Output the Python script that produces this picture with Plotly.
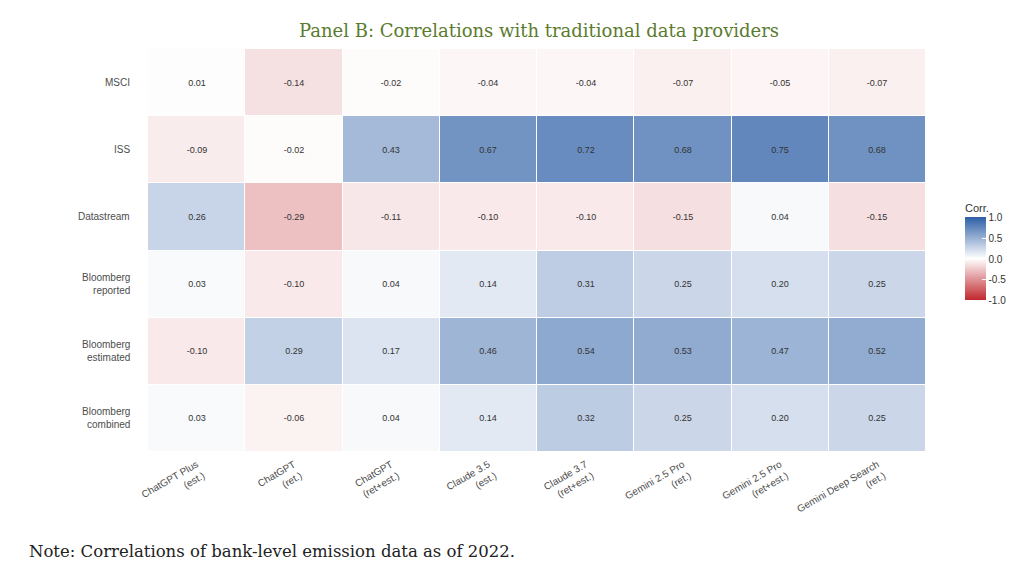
import plotly.graph_objects as go

models = ["ChatGPT Plus<br>(est.)", "ChatGPT<br>(ret.)", "ChatGPT<br>(ret+est.)",
          "Claude 3.5<br>(est.)", "Claude 3.7<br>(ret+est.)", "Gemini 2.5 Pro<br>(ret.)",
          "Gemini 2.5 Pro<br>(ret+est.)", "Gemini Deep Search<br>(ret.)"]
providers = ["MSCI", "ISS", "Datastream", "Bloomberg<br>reported",
             "Bloomberg<br>estimated", "Bloomberg<br>combined"]

msci = [0.01, -0.14, -0.02, -0.04, -0.04, -0.07, -0.05, -0.07]
iss = [-0.09, -0.02, 0.43, 0.67, 0.72, 0.68, 0.75, 0.68]
datastream = [0.26, -0.29, -0.11, -0.10, -0.10, -0.15, 0.04, -0.15]
bbg_reported = [0.03, -0.10, 0.04, 0.14, 0.31, 0.25, 0.20, 0.25]
bbg_estimated = [-0.10, 0.29, 0.17, 0.46, 0.54, 0.53, 0.47, 0.52]
bbg_combined = [0.03, -0.06, 0.04, 0.14, 0.32, 0.25, 0.20, 0.25]

z = [msci, iss, datastream, bbg_reported, bbg_estimated, bbg_combined]

# red - white - blue like ggplot gradient2
cscale = [[0.0, "#c0272d"], [0.5, "#ffffff"], [1.0, "#2d5fa6"]]

fig = go.Figure(go.Heatmap(
    z=z, x=models, y=providers,
    zmin=-1, zmax=1, colorscale=cscale,
    xgap=1, ygap=1,
    texttemplate="%{z:.2f}",
    textfont=dict(size=9, color="#333333", family="Liberation Sans"),
    colorbar=dict(
        title=dict(text="Corr.", side="top", font=dict(size=11, color="#333333")),
        tickvals=[1.0, 0.5, 0.0, -0.5, -1.0],
        ticktext=["1.0", "0.5", "0.0", "-0.5", "-1.0"],
        tickfont=dict(size=10, color="#333333"),
        ticks="inside", tickcolor="white", ticklen=4,
        thickness=21, len=100, lenmode="pixels",
        x=1.036, xanchor="left", y=0.5, yanchor="middle",
        outlinewidth=0, ypad=0,
    ),
))

fig.update_layout(
    width=1024, height=570,
    margin=dict(l=140, r=105, t=41, b=126),
    paper_bgcolor="white", plot_bgcolor="white",
    font=dict(family="Liberation Sans", color="#4d4d4d"),
    title=dict(text="Panel B: Correlations with traditional data providers",
               x=0.5186, xanchor="center", y=0.961, yanchor="middle",
               font=dict(family="DejaVu Serif", size=18, color="#5b7b2f")),
    xaxis=dict(tickangle=-30, tickfont=dict(size=10, color="#4d4d4d"),
               showgrid=False, zeroline=False, ticks="", ticklabelstandoff=4),
    yaxis=dict(autorange="reversed", showticklabels=False,
               showgrid=False, zeroline=False, ticks=""),
)

# right-aligned row labels (ggplot style)
for p in providers:
    fig.add_annotation(
        text=p, xref="paper", yref="y", x=0, y=p, xshift=-16,
        xanchor="right", yanchor="middle", align="right", showarrow=False,
        font=dict(size=10, color="#4d4d4d"),
    )

fig.add_annotation(
    text="Note: Correlations of bank-level emission data as of 2022.",
    xref="paper", yref="paper", x=-0.155, y=-0.246,
    xanchor="left", yanchor="middle", showarrow=False,
    font=dict(family="DejaVu Serif", size=16.5, color="#222222"),
)

fig.write_html("out.html")
